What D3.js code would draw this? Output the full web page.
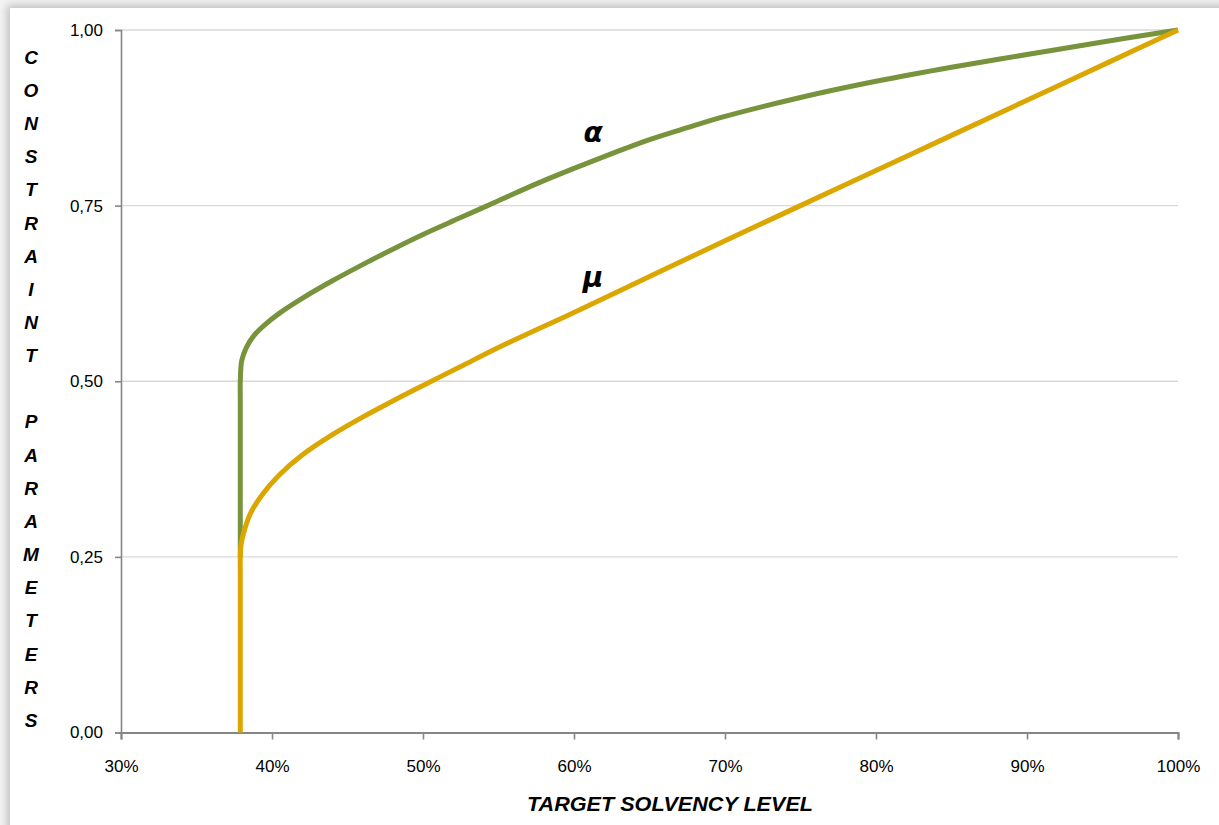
<!DOCTYPE html>
<html>
<head>
<meta charset="utf-8">
<script src="https://cdn.jsdelivr.net/npm/d3@7"></script>
<style>
  html, body { margin: 0; padding: 0; background: #ffffff; }
  svg { display: block; }
</style>
</head>
<body>
<svg id="chart" width="1219" height="825"></svg>
<script>
// ---- Data ----
const xTicks = [0.30, 0.40, 0.50, 0.60, 0.70, 0.80, 0.90, 1.00];
const yTicks = [0.00, 0.25, 0.50, 0.75, 1.00];

// alpha series (green)
const alphaLevel = [0.379, 0.379, 0.379, 0.380, 0.383, 0.388, 0.395, 0.405, 0.42, 0.44, 0.46, 0.48, 0.50, 0.525, 0.55, 0.575, 0.60, 0.625, 0.65, 0.675, 0.70, 0.75, 0.80, 0.85, 0.90, 0.95, 1.00];
const alphaValue = [0.25, 0.47, 0.50, 0.53, 0.548, 0.565, 0.58, 0.597, 0.618, 0.643, 0.666, 0.688, 0.709, 0.733, 0.757, 0.781, 0.803, 0.824, 0.844, 0.861, 0.877, 0.904, 0.927, 0.947, 0.965, 0.983, 1.00];

// mu series (gold)
const muLevel = [0.379, 0.379, 0.379, 0.3795, 0.382, 0.386, 0.394, 0.405, 0.42, 0.44, 0.46, 0.48, 0.50, 0.525, 0.55, 0.60, 0.65, 0.70, 0.75, 0.80, 0.85, 0.90, 0.95, 1.00];
const muValue = [0.00, 0.22, 0.25, 0.267, 0.29, 0.313, 0.34, 0.367, 0.395, 0.424, 0.449, 0.472, 0.494, 0.521, 0.548, 0.598, 0.649, 0.70, 0.75, 0.80, 0.85, 0.90, 0.95, 1.00];

const yTitleLetters = ["C","O","N","S","T","R","A","I","N","T","","P","A","R","A","M","E","T","E","R","S"];
const xTitle = "TARGET SOLVENCY LEVEL";

// ---- Layout ----
const svg = d3.select("#chart");
const W = 1219, H = 825;
const plot = { left: 121, right: 1178, top: 30, bottom: 732.5 };

// background panel with a soft shadow on top/left
const defs = svg.append("defs");
const f = defs.append("filter").attr("id", "sh").attr("x", "-5%").attr("y", "-5%").attr("width", "110%").attr("height", "110%");
f.append("feDropShadow").attr("dx", -3).attr("dy", -3).attr("stdDeviation", 4).attr("flood-color", "#000").attr("flood-opacity", 0.22);
svg.append("rect").attr("x", 0).attr("y", 0).attr("width", W).attr("height", H).attr("fill", "#f4f4f4");
svg.append("rect").attr("x", 10).attr("y", 8).attr("width", W + 20).attr("height", H + 20)
  .attr("fill", "#ffffff").attr("filter", "url(#sh)");

const x = d3.scaleLinear().domain([0.30, 1.00]).range([plot.left, plot.right]);
const y = d3.scaleLinear().domain([0, 1]).range([plot.bottom, plot.top]);

// gridlines
svg.append("g").selectAll("line").data(yTicks.filter(d => d > 0)).join("line")
  .attr("x1", plot.left).attr("x2", plot.right)
  .attr("y1", d => y(d)).attr("y2", d => y(d))
  .attr("stroke", "#d9d9d9").attr("stroke-width", 1.3);

const fontBase = "'Liberation Sans', Arial, sans-serif";

// y axis
const yAxis = svg.append("g").attr("transform", `translate(${plot.left},0)`)
  .call(d3.axisLeft(y).tickValues(yTicks).tickSize(6).tickPadding(12)
    .tickFormat(d => d3.format(".2f")(d).replace(".", ",")));
yAxis.select(".domain").attr("stroke", "#868686").attr("stroke-width", 1.6);
yAxis.selectAll(".tick line").attr("stroke", "#868686").attr("stroke-width", 1.6);
yAxis.selectAll(".tick text").attr("fill", "#000").style("font-family", fontBase).style("font-size", "17px");

// x axis
const xAxis = svg.append("g").attr("transform", `translate(0,${plot.bottom})`)
  .call(d3.axisBottom(x).tickValues(xTicks).tickSize(7).tickPadding(20)
    .tickFormat(d3.format(".0%")));
xAxis.select(".domain").attr("stroke", "#868686").attr("stroke-width", 2);
xAxis.selectAll(".tick line").attr("stroke", "#868686").attr("stroke-width", 1.6);
xAxis.selectAll(".tick text").attr("fill", "#000").style("font-family", fontBase).style("font-size", "17px");

// lines
const line = d3.line().curve(d3.curveCatmullRom.alpha(0.5)).x(d => x(d[0])).y(d => y(d[1]));
const alphaData = alphaLevel.map((v, i) => [v, alphaValue[i]]);
const muData = muLevel.map((v, i) => [v, muValue[i]]);

svg.append("path").datum(alphaData).attr("d", line)
  .attr("fill", "none").attr("stroke", "#77933c").attr("stroke-width", 5).attr("stroke-linejoin", "round");
svg.append("path").datum(muData).attr("d", line)
  .attr("fill", "none").attr("stroke", "#dba600").attr("stroke-width", 5).attr("stroke-linejoin", "round");

// series labels
svg.append("text").attr("x", 593).attr("y", 142).attr("text-anchor", "middle")
  .style("font-family", "'DejaVu Sans', sans-serif").style("font-weight", "bold").style("font-style", "italic")
  .style("font-size", "28px").text("α");
svg.append("text").attr("x", 593).attr("y", 287).attr("text-anchor", "middle")
  .style("font-family", "'DejaVu Sans', sans-serif").style("font-weight", "bold").style("font-style", "italic")
  .style("font-size", "28px").text("μ");

// y title (stacked letters)
svg.append("g").selectAll("text").data(yTitleLetters).join("text")
  .attr("x", 31).attr("y", (d, i) => 57 + i * 33.15).attr("dy", "0.36em")
  .attr("text-anchor", "middle")
  .style("font-family", fontBase).style("font-weight", "bold").style("font-style", "italic")
  .style("font-size", "19px").text(d => d);

// x title
svg.append("text").attr("x", 670).attr("y", 811).attr("text-anchor", "middle")
  .attr("textLength", 286).attr("lengthAdjust", "spacingAndGlyphs")
  .style("font-family", fontBase).style("font-weight", "bold").style("font-style", "italic")
  .style("font-size", "21px").text(xTitle);
</script>
</body>
</html>
